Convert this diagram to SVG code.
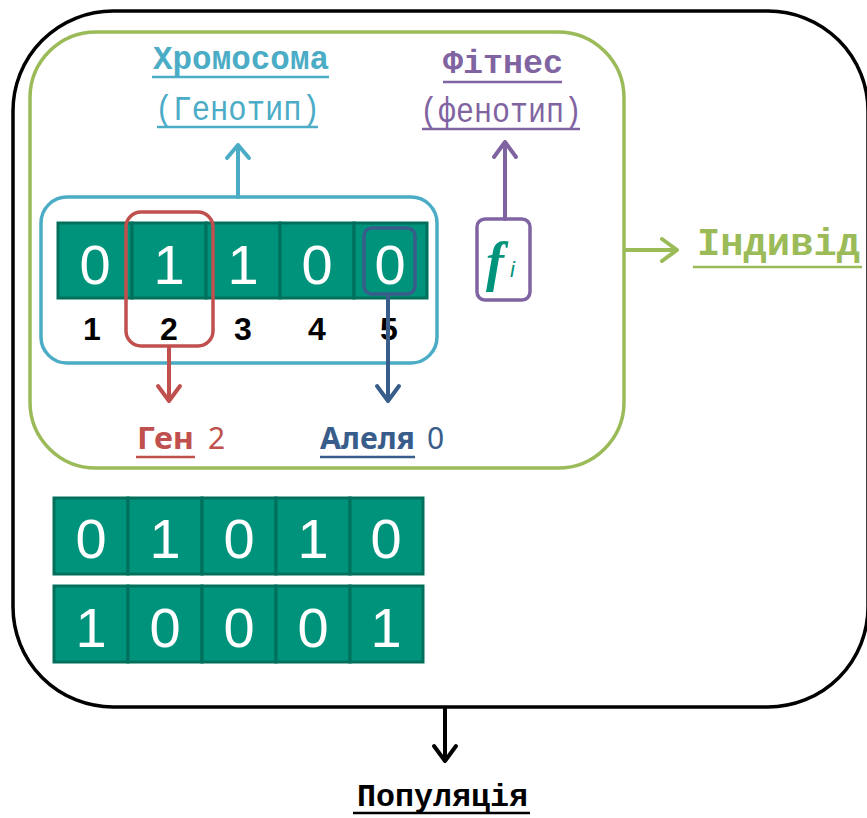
<svg xmlns="http://www.w3.org/2000/svg" width="867" height="818" viewBox="0 0 867 818">
<style>
.mono{font-family:"Liberation Mono","DejaVu Sans Mono",monospace}
.b{font-weight:bold}
.dig{font-family:"Liberation Sans",Arial,sans-serif;font-size:56px;fill:#fff;text-anchor:middle}
.idx{font-family:"Liberation Sans",Arial,sans-serif;font-size:32px;font-weight:bold;fill:#000;text-anchor:middle}
.lbl{font-family:"Noto Sans","Open Sans",sans-serif;font-size:30px}
.cell{fill:#00937C;stroke:#00705D;stroke-width:3}
.ul{stroke-width:2.5}
.conn{fill:none;stroke-width:4;stroke-linecap:round;stroke-linejoin:round}
</style>
<rect width="867" height="818" fill="#fff"/>
<!-- population container -->
<g id="population">
<rect x="13" y="11" width="855" height="696" rx="100" ry="100" fill="none" stroke="#000" stroke-width="3.5"/>
<text class="mono b" x="357" y="806" font-size="31" textLength="171" lengthAdjust="spacingAndGlyphs" fill="#000">Популяція</text>
<line class="ul" x1="353" y1="813" x2="530" y2="813" stroke="#000"/>
</g>
<!-- individual -->
<g id="individual">
<rect x="30" y="32" width="594" height="436" rx="66" ry="66" fill="none" stroke="#9BBB59" stroke-width="3.5"/>
<text class="mono b" x="697" y="255" font-size="39" textLength="163" lengthAdjust="spacingAndGlyphs" fill="#9BBB59">Індивід</text>
<line class="ul" x1="693" y1="267" x2="862" y2="267" stroke="#9BBB59"/>
</g>
<!-- chromosome -->
<g id="chromosome">
<rect x="41" y="197" width="396" height="166" rx="26" ry="26" fill="none" stroke="#4BACC6" stroke-width="3.5"/>
<rect class="cell" x="58" y="223" width="74" height="75"/>
<rect class="cell" x="132" y="223" width="74" height="75"/>
<rect class="cell" x="206" y="223" width="74" height="75"/>
<rect class="cell" x="280" y="223" width="74" height="75"/>
<rect class="cell" x="354" y="223" width="73" height="75"/>
<text class="dig" x="95" y="284">0</text>
<text class="dig" x="169" y="284">1</text>
<text class="dig" x="243" y="284">1</text>
<text class="dig" x="317" y="284">0</text>
<text class="dig" x="390" y="284">0</text>
<text class="idx" x="92" y="340">1</text>
<text class="idx" x="169" y="340">2</text>
<text class="idx" x="243" y="340">3</text>
<text class="idx" x="317" y="340">4</text>
<text class="idx" x="389" y="340">5</text>
<text class="mono b" x="153" y="69" font-size="34" textLength="176" lengthAdjust="spacingAndGlyphs" fill="#4BACC6">Хромосома</text>
<line class="ul" x1="152" y1="77" x2="329" y2="77" stroke="#4BACC6"/>
<text class="mono" x="155" y="120" font-size="35" textLength="165" lengthAdjust="spacingAndGlyphs" fill="#4BACC6">(Генотип)</text>
<line class="ul" x1="157" y1="127" x2="318" y2="127" stroke="#4BACC6"/>
</g>
<!-- gene -->
<g id="gene">
<rect x="126" y="212" width="87" height="134" rx="15" ry="15" fill="none" stroke="#C0504D" stroke-width="3.5"/>
<text class="lbl" x="137" y="449" font-weight="bold" textLength="57" lengthAdjust="spacingAndGlyphs" fill="#C0504D">Ген</text>
<text class="lbl" x="208" y="449" fill="#C0504D">2</text>
<line class="ul" x1="136" y1="457" x2="195" y2="457" stroke="#C0504D"/>
</g>
<!-- allele -->
<g id="allele">
<rect x="364" y="228" width="51" height="66" rx="8" ry="8" fill="none" stroke="#385D8A" stroke-width="3.5"/>
<text class="lbl" x="320" y="449" font-weight="bold" textLength="95" lengthAdjust="spacingAndGlyphs" fill="#385D8A">Алеля</text>
<text class="lbl" x="427" y="449" fill="#385D8A">0</text>
<line class="ul" x1="320" y1="457" x2="415" y2="457" stroke="#385D8A"/>
</g>
<!-- fitness -->
<g id="fitness">
<rect x="477" y="219" width="53" height="81" rx="8" ry="8" fill="none" stroke="#8064A2" stroke-width="3.5"/>
<text x="486" y="280" font-family="Liberation Serif,serif" font-style="italic" font-weight="bold" font-size="54" fill="#00937C">f</text>
<text x="510" y="277" font-family="Liberation Sans,sans-serif" font-style="italic" font-size="22" fill="#00937C">i</text>
<text class="mono b" x="443" y="73" font-size="34" textLength="120" lengthAdjust="spacingAndGlyphs" fill="#8064A2">Фітнес</text>
<line class="ul" x1="443" y1="82" x2="562" y2="82" stroke="#8064A2"/>
<text class="mono" x="420" y="122" font-size="35" textLength="162" lengthAdjust="spacingAndGlyphs" fill="#8064A2">(фенотип)</text>
<line class="ul" x1="422" y1="129" x2="580" y2="129" stroke="#8064A2"/>
</g>
<!-- other chromosomes -->
<g id="chromosome2">
<rect class="cell" x="54" y="498" width="74" height="76"/>
<rect class="cell" x="128" y="498" width="74" height="76"/>
<rect class="cell" x="202" y="498" width="74" height="76"/>
<rect class="cell" x="276" y="498" width="74" height="76"/>
<rect class="cell" x="350" y="498" width="73" height="76"/>
<text class="dig" x="91" y="558">0</text>
<text class="dig" x="165" y="558">1</text>
<text class="dig" x="239" y="558">0</text>
<text class="dig" x="313" y="558">1</text>
<text class="dig" x="386" y="558">0</text>
</g>
<g id="chromosome3">
<rect class="cell" x="54" y="586" width="74" height="76"/>
<rect class="cell" x="128" y="586" width="74" height="76"/>
<rect class="cell" x="202" y="586" width="74" height="76"/>
<rect class="cell" x="276" y="586" width="74" height="76"/>
<rect class="cell" x="350" y="586" width="73" height="76"/>
<text class="dig" x="91" y="647">1</text>
<text class="dig" x="165" y="647">0</text>
<text class="dig" x="239" y="647">0</text>
<text class="dig" x="313" y="647">0</text>
<text class="dig" x="386" y="647">1</text>
</g>
<!-- connectors -->
<g id="connectors">
<path class="conn" stroke="#4BACC6" d="M238 197V145M227 158L238 145L249 158"/>
<path class="conn" stroke="#8064A2" d="M505 219V142M494 157L505 142L516 157"/>
<path class="conn" stroke="#9BBB59" d="M626 250H677M662 239L677 250L662 261"/>
<path class="conn" stroke="#C0504D" d="M169 348V401M158 386L169 401L180 386"/>
<path class="conn" stroke="#385D8A" d="M388 296V401M377 386L388 401L399 386"/>
<path class="conn" stroke="#000" d="M445 709V761M434 746L445 761L456 746"/>
</g>
</svg>
